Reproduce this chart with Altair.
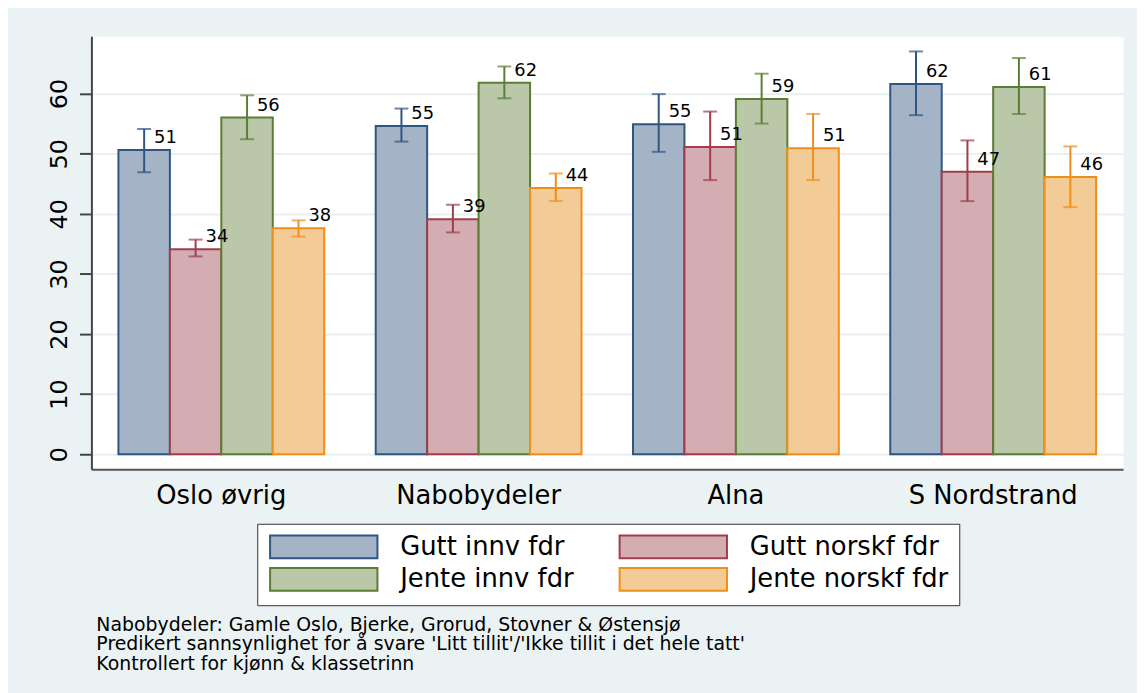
import altair as alt
import pandas as pd

# ---- data ----
regions = ["Oslo øvrig", "Nabobydeler", "Alna", "S Nordstrand"]
groups = ["Gutt innv fdr", "Gutt norskf fdr", "Jente innv fdr", "Jente norskf fdr"]

gutt_innv = [50.6, 54.6, 54.9, 61.6]
gutt_innv_lo = [46.9, 52.0, 50.3, 56.4]
gutt_innv_hi = [54.1, 57.5, 59.9, 67.0]

gutt_norsk = [34.1, 39.1, 51.1, 47.0]
gutt_norsk_lo = [32.9, 36.9, 45.6, 42.1]
gutt_norsk_hi = [35.7, 41.5, 57.0, 52.2]

jente_innv = [56.0, 61.8, 59.1, 61.1]
jente_innv_lo = [52.4, 59.2, 55.0, 56.6]
jente_innv_hi = [59.7, 64.5, 63.3, 65.9]

jente_norsk = [37.6, 44.3, 50.9, 46.1]
jente_norsk_lo = [36.2, 42.1, 45.6, 41.1]
jente_norsk_hi = [38.9, 46.7, 56.6, 51.2]

y_ticks = [0, 10, 20, 30, 40, 50, 60]

notes = [
    "Nabobydeler: Gamle Oslo, Bjerke, Grorud, Stovner & Østensjø",
    "Predikert sannsynlighet for å svare 'Litt tillit'/'Ikke tillit i det hele tatt'",
    "Kontrollert for kjønn & klassetrinn",
]

fills = ["#A4B4C6", "#D4ADB2", "#BAC8A9", "#F3CB97"]
strokes = ["#2E5683", "#A03C4C", "#5A7E34", "#F08E1A"]

series = [
    (groups[0], gutt_innv, gutt_innv_lo, gutt_innv_hi),
    (groups[1], gutt_norsk, gutt_norsk_lo, gutt_norsk_hi),
    (groups[2], jente_innv, jente_innv_lo, jente_innv_hi),
    (groups[3], jente_norsk, jente_norsk_lo, jente_norsk_hi),
]
rows = []
for g, vals, los, his in series:
    for r, v, lo, hi in zip(regions, vals, los, his):
        rows.append({"region": r, "group": g, "value": v, "lo": lo, "hi": hi})
df = pd.DataFrame(rows)

FONT = "DejaVu Sans"

x_enc = alt.X("region:N", sort=regions, title=None,
              scale=alt.Scale(paddingInner=0.2, paddingOuter=0.105),
              axis=alt.Axis(labelAngle=0, ticks=False, labelFontSize=26,
                            labelFont=FONT, labelColor="#000000",
                            labelPadding=14, domainColor="#555555",
                            domainWidth=2, grid=False))
xo_enc = alt.XOffset("group:N", sort=groups,
                     scale=alt.Scale(paddingInner=0, paddingOuter=0))
y_scale = alt.Scale(domain=[-2.48, 69.53], nice=False, zero=False)

# wide rectangular legend swatch: path scaled by sqrt(size)/2 = 11.5 px
legend = alt.Legend(
    title=None, orient="none", legendX=167, legendY=491, columns=2,
    direction="horizontal",
    symbolType="M-4.7,-1H4.7V1H-4.7Z", symbolSize=529, symbolOffset=44,
    symbolStrokeWidth=2, labelFont=FONT, labelFontSize=26,
    labelColor="#000000", labelOffset=64, columnPadding=41, rowPadding=1,
    padding=10, fillColor="#FFFFFF", strokeColor="#333333", labelLimit=400,
)

fill_enc = alt.Fill("group:N", sort=groups,
                    scale=alt.Scale(domain=groups, range=fills), legend=legend)
stroke_enc = alt.Stroke("group:N", sort=groups,
                        scale=alt.Scale(domain=groups, range=strokes), legend=legend)

base = alt.Chart(df)

bars = base.mark_bar(strokeWidth=2, fillOpacity=1).encode(
    x=x_enc, xOffset=xo_enc,
    y=alt.Y("value:Q", scale=y_scale, title=None,
            axis=alt.Axis(values=y_ticks, labelAngle=270, labelAlign="center",
                          labelBaseline="bottom", labelFontSize=24,
                          labelFont=FONT, labelColor="#000000", labelPadding=8,
                          tickSize=12, tickWidth=2, tickColor="#444444",
                          domainColor="#444444", domainWidth=2,
                          gridColor="#E8F0F2", gridWidth=2)),
    y2=alt.datum(0),
    fill=fill_enc, stroke=stroke_enc,
)

err = base.mark_rule(strokeWidth=2).encode(
    x=x_enc, xOffset=xo_enc,
    y=alt.Y("lo:Q", scale=y_scale), y2="hi:Q",
    stroke=stroke_enc,
)
cap_color = alt.Color("group:N", sort=groups,
                      scale=alt.Scale(domain=groups, range=strokes), legend=None)
cap_lo = base.mark_tick(size=14, thickness=2).encode(
    x=x_enc, xOffset=xo_enc, y=alt.Y("lo:Q", scale=y_scale), color=cap_color,
)
cap_hi = base.mark_tick(size=14, thickness=2).encode(
    x=x_enc, xOffset=xo_enc, y=alt.Y("hi:Q", scale=y_scale), color=cap_color,
)

labels = base.mark_text(align="left", baseline="middle", dx=10, dy=-12,
                        font=FONT, fontSize=18, color="#000000").encode(
    x=x_enc, xOffset=xo_enc, y=alt.Y("value:Q", scale=y_scale),
    text=alt.Text("value:Q", format=".0f"),
)

chart = alt.layer(bars, err, cap_lo, cap_hi, labels).properties(
    width=1039, height=436,
    padding={"left": 84, "top": 26, "right": 14, "bottom": 223},
    autosize=alt.AutoSizeParams(type="none"),
    background="#EAF2F3",
    title=alt.TitleParams(text=notes, orient="bottom", anchor="start",
                          frame="group", font=FONT, fontSize=19,
                          fontWeight="normal", color="#000000",
                          lineHeight=20, offset=10, dx=5),
).configure_view(fill="#FFFFFF", stroke="transparent")

chart.save("out.html", embed_options={"renderer": "svg", "actions": False})
